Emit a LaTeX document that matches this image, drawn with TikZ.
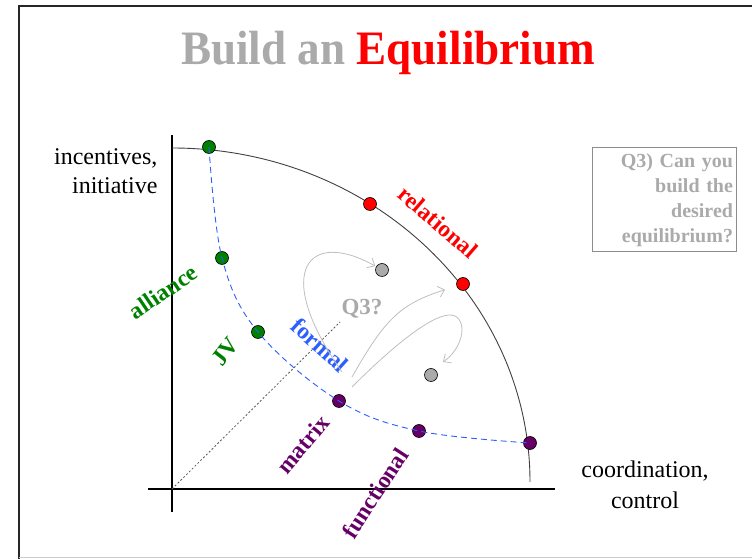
\documentclass[tikz,border=0pt]{standalone}
\usepackage{fontspec}
\setmainfont{Liberation Serif}
\newfontfamily\titlefont[FakeStretch=0.94]{Liberation Serif}
\usetikzlibrary{arrows.meta}
\definecolor{EqGray}{RGB}{170,170,170}
\definecolor{EqFrame}{RGB}{140,140,140}
\definecolor{EqRed}{RGB}{255,0,0}
\definecolor{EqGreen}{RGB}{0,128,0}
\definecolor{EqPurple}{RGB}{102,0,102}
\definecolor{EqBlue}{RGB}{45,95,255}
\definecolor{EqHint}{RGB}{190,190,190}
\tikzset{
  every node/.style={text=black},
  dot/.style={circle, draw=black, line width=0.6pt, minimum size=13pt, inner sep=0pt},
  tag/.style={font=\fontsize{23.5}{26}\selectfont\bfseries},
  axis/.style={draw=black, line width=2pt},
  frontier/.style={draw=black!75, line width=0.9pt},
  inner frontier/.style={draw=EqBlue, line width=0.9pt, dash pattern=on 6pt off 4pt},
  hint/.style={-{Straight Barb[length=6pt,width=11pt]}, draw=EqHint, line width=0.8pt},
}

\begin{document}
\begin{tikzpicture}[x=1pt,y=1pt]
  \useasboundingbox (0,0) rectangle (752,559);
  % slide frame
  \draw[black!85, line width=2pt] (19,0) -- (19,553) -- (752,553);
  \draw[black!20, line width=1pt] (19,1.5) -- (752,1.5);
  \node[font=\titlefont\fontsize{48}{50}\selectfont\bfseries, anchor=base] (title) at (388,494)
    {\textcolor{EqGray}{Build an} \textcolor{EqRed}{Equilibrium}};
  % axes
  \coordinate (origin) at (172,70);
  \draw[axis] (172,424) -- (172,47);
  \draw[axis] (148,70) -- (555,70);
  \node[font=\fontsize{24}{29}\selectfont, align=right, anchor=east] (ylabel) at (161,388) {incentives,\\initiative};
  \node[font=\fontsize{24}{31}\selectfont, align=center] (xlabel) at (645,74) {coordination,\\control};
  % outer frontier
  \draw[frontier] (172,411) arc[start angle=90, end angle=0, x radius=358, y radius=334];
  % diagonal
  \coordinate (diagEnd) at (340,237);
  \draw[black!65, line width=0.8pt, dash pattern=on 2pt off 2pt] (origin) -- (diagEnd);
  % forms
  \node[dot, fill=EqGreen] (green1) at (209,412) {};
  \node[dot, fill=EqGreen] (green2) at (222,301) {};
  \node[dot, fill=EqGreen] (green3) at (258,227) {};
  \node[dot, fill=EqRed] (red1) at (370,355) {};
  \node[dot, fill=EqRed] (red2) at (463,275) {};
  \node[dot, fill=EqGray] (gray1) at (382,289) {};
  \node[dot, fill=EqGray] (gray2) at (431,184) {};
  \node[dot, fill=EqPurple] (purple1) at (339,158) {};
  \node[dot, fill=EqPurple] (purple2) at (419,128) {};
  \node[dot, fill=EqPurple] (purple3) at (530,116) {};
  \draw[inner frontier] plot[smooth, tension=0.6] coordinates
    {(green1.center) (green2.center) (green3.center) (purple1.center) (purple2.center) (purple3.center)};
  % labels
  \node[tag, text=EqRed, rotate=-41] (relational) at (438,337) {relational};
  \node[tag, text=EqGreen, rotate=34] (alliance) at (163,267) {alliance};
  \node[tag, text=EqGreen, rotate=52] (jv) at (225,207) {JV};
  \node[tag, text=EqBlue, rotate=-42] (formal) at (320,214) {formal};
  \node[tag, text=EqPurple, rotate=50] (matrix) at (303,115) {matrix};
  \node[tag, text=EqPurple, rotate=57] (functional) at (375,66) {functional};
  \node[font=\fontsize{23}{24}\selectfont\bfseries, text=EqGray] (q3) at (362,250) {Q3?};
  % moves
  \coordinate (moveA) at (342,187);
  \coordinate (moveB) at (352,182);
  \coordinate (moveC) at (352,172);
  \draw[hint, shorten >=1pt] (moveA) .. controls (270,290) and (310,330) .. (gray1);
  \draw[hint, shorten >=12pt] (moveB) .. controls (385,240) and (400,255) .. (red2);
  \draw[hint] (moveC) .. controls (400,220) and (440,250) .. (455,243)
    .. controls (468,236) and (462,210) .. ([shift={(12,13)}]gray2.center);
  % question box
  \node[draw=EqFrame, line width=1pt, text=EqGray, font=\fontsize{20}{25}\selectfont\bfseries,
    align=right, text width=137pt, inner sep=3.5pt, minimum height=104pt] (question) at (664.5,359)
    {Q3) Can you\\build the\\desired\\equilibrium?};
\end{tikzpicture}
\end{document}
